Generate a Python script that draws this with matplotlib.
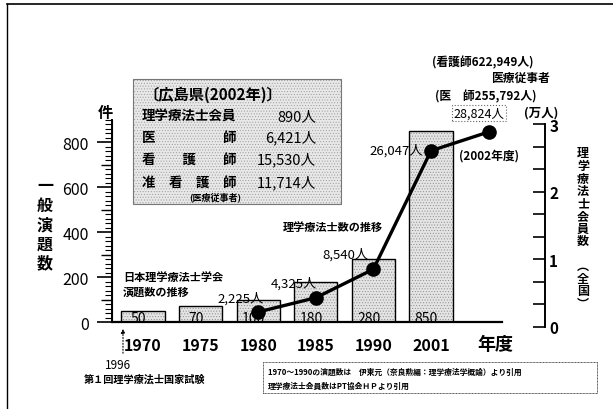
import matplotlib
matplotlib.use('Agg')
import matplotlib.pyplot as plt
from matplotlib.patches import Rectangle
from matplotlib.lines import Line2D
from matplotlib.ticker import MultipleLocator, FixedLocator

plt.rcParams['font.family'] = ['Noto Sans CJK JP', 'DejaVu Sans']
plt.rcParams['hatch.linewidth'] = 0.4

# ---- data ----
categories = ['1970', '1975', '1980', '1985', '1990', '2001']
presentations = [50, 70, 100, 180, 280, 850]
pt_years = ['1980', '1985', '1990', '2001', '2002']
pt_members = [2225, 4325, 8540, 26047, 28824]
hiroshima_labels = ['理学療法士会員', '医　　　　　師', '看　　護　　師', '准　看　護　師']
hiroshima_values = [890, 6421, 15530, 11714]
right_ticks = [0, 1, 2, 3]
left_ticks = [0, 200, 400, 600, 800]

# ---- layout helpers ----
W, H = 613, 410
fig = plt.figure(figsize=(6.13, 4.10), dpi=100)
def fx(x): return x / W
def fy(y): return 1 - y / H

axL, axR = 112, 545
step = 57.6
x0 = 143
xmin, xmax = (axL - x0) / step, (axR - x0) / step

ax = fig.add_axes([fx(axL), fy(323), (axR - axL) / W, (323 - 121) / H])
ax2 = fig.add_axes([fx(axL), fy(328), (axR - axL) / W, (328 - 125) / H])

positions = list(range(len(categories)))
all_years = categories + [y for y in pt_years if y not in categories]
line_pos = [all_years.index(y) for y in pt_years]

# bars (texture + outline)
ax.bar(positions, presentations, width=0.75, color='#e4e4e4', hatch='......',
       edgecolor='#8c8c8c', linewidth=0, zorder=2)
ax.bar(positions, presentations, width=0.75, fill=False, edgecolor='black',
       linewidth=1.0, zorder=3)
for p, v in zip(positions, presentations):
    ax.text(p - 0.08, 18, str(v), ha='center', va='center', fontsize=10, zorder=4)

ax.set_xlim(xmin, xmax)
ax.set_ylim(0, 900)
for s in ['top', 'right']:
    ax.spines[s].set_visible(False)
ax.spines['bottom'].set_bounds(xmin, (502 - x0) / step)
ax.spines['bottom'].set_linewidth(1.6)
ax.spines['left'].set_linewidth(1.4)
ax.patch.set_visible(False)

ax.yaxis.set_major_locator(FixedLocator(left_ticks))
ax.yaxis.set_minor_locator(MultipleLocator(20))
ax.tick_params(axis='y', which='major', length=10.8, width=1.2, direction='out',
               pad=6, labelsize=11.5)
ax.tick_params(axis='y', which='minor', length=5, width=0.8, direction='out')
sec = ax.secondary_yaxis('left')
sec.set_yticks([100, 300, 500, 700])
sec.tick_params(length=8, width=1.0, labelleft=False)

ax.set_xticks(positions, categories)
ax.tick_params(axis='x', length=0, pad=11, labelsize=11.5)
for lbl in ax.get_xticklabels():
    lbl.set_fontweight('bold')

# right axis + line
ax2.set_xlim(xmin, xmax)
ax2.set_ylim(0, 3)
ax2.patch.set_visible(False)
for s in ['top', 'left', 'bottom']:
    ax2.spines[s].set_visible(False)
ax2.spines['right'].set_linewidth(1.4)
ax2.set_xticks([])
ax2.yaxis.tick_right()
ax2.set_yticks(right_ticks)
ax2.yaxis.set_minor_locator(MultipleLocator(1 / 3))
ax2.tick_params(axis='y', which='both', direction='in', length=9, width=1.2,
                pad=3, labelsize=11)
for lbl in ax2.get_yticklabels():
    lbl.set_fontweight('bold')

vals = [v / 10000 for v in pt_members]
ax2.plot(line_pos, vals, color='black', lw=2.4, marker='o', ms=9.5, zorder=5)

offsets = [(6, 14, 'right'), (1, 15, 'right'), (-5, 15, 'right'), (-8, 1, 'right')]
for (dx, dy, ha), p, v, raw in zip(offsets, line_pos, vals, pt_members):
    ax2.annotate(f'{raw:,}人', (p, v), xytext=(dx, dy), textcoords='offset pixels',
                 ha=ha, va='center', fontsize=9.5)
ax2.annotate(f'{pt_members[-1]:,}人', (line_pos[-1], vals[-1]), xytext=(-10, 19),
             textcoords='offset pixels', ha='center', va='center', fontsize=9,
             bbox=dict(boxstyle='square,pad=0.12', fc='white', ec='#666666',
                       ls=':', lw=0.8))
ax2.annotate('(2002年度)', (line_pos[-1], vals[-1]), xytext=(0, -23),
             textcoords='offset pixels', ha='center', va='center', fontsize=8.5,
             weight='bold')

# text box (Hiroshima)
fig.add_artist(Rectangle((fx(133), fy(205)), (341 - 133) / W, (205 - 80) / H,
                         transform=fig.transFigure, fc='#e8e8e8', hatch='......',
                         ec='#9a9a9a', lw=0, zorder=0))
fig.add_artist(Rectangle((fx(133), fy(205)), (341 - 133) / W, (205 - 80) / H,
                         transform=fig.transFigure, fill=False, ec='#777777',
                         lw=0.8, zorder=1))
fig.text(fx(143), fy(95), '〔広島県(2002年)〕', fontsize=11, va='center', weight='bold')
for i, (lab, v) in enumerate(zip(hiroshima_labels, hiroshima_values)):
    yy = [117, 138, 160, 183][i]
    fig.text(fx(142), fy(yy), lab, fontsize=9.7, va='center', weight='bold')
    fig.text(fx(316), fy(yy), f'{v:,}人', fontsize=10.5, va='center', ha='right')
fig.text(fx(215), fy(197), '(医療従事者)', fontsize=6.5, va='center', ha='center',
         weight='bold')

# other annotations
fig.text(fx(432), fy(63), '(看護師622,949人)', fontsize=8.5, va='center', weight='bold')
fig.text(fx(550), fy(78), '医療従事者', fontsize=8.5, va='center', ha='right', weight='bold')
fig.text(fx(435), fy(97), '(医　師255,792人)', fontsize=8.5, va='center', weight='bold')
fig.text(fx(541), fy(113), '(万人)', fontsize=9, va='center', ha='center', weight='bold')
fig.text(fx(105), fy(113), '件', fontsize=11, va='center', ha='center', weight='bold')
fig.text(fx(495), fy(345), '年度', fontsize=13, va='center', ha='center', weight='bold')
fig.text(fx(333), fy(227), '理学療法士数の推移', fontsize=8, va='center', ha='center',
         weight='bold')
fig.text(fx(123), fy(278), '日本理学療法士学会', fontsize=8, va='center', weight='bold')
fig.text(fx(123), fy(292), '演題数の推移', fontsize=8, va='center', weight='bold')
fig.text(fx(45), fy(225), '\n'.join('一般演題数'), fontsize=11.5, va='center',
         ha='center', weight='bold', linespacing=1.25)
fig.text(fx(583), fy(229), '\n'.join('理学療法士会員数') + '\n\n' + '\n'.join('︵全国︶'),
         fontsize=8.7, va='center', ha='center', weight='bold', linespacing=0.95)

fig.text(fx(118), fy(366), '1996', fontsize=8.5, va='center', ha='center')
fig.text(fx(145), fy(380), '第１回理学療法士国家試験', fontsize=7.3, va='center',
         ha='center', weight='bold')
fig.add_artist(plt.Annotation('', xy=(fx(123), fy(327)), xytext=(fx(123), fy(357)),
                              xycoords='figure fraction', textcoords='figure fraction',
                              arrowprops=dict(arrowstyle='-|>', ls=':', lw=0.8,
                                              color='black', mutation_scale=6)))

# footnote box
fig.add_artist(Rectangle((fx(263), fy(394)), (597 - 263) / W, (394 - 363) / H,
                         transform=fig.transFigure, fill=False, ec='#555555',
                         lw=0.7, ls=(0, (1, 0.5))))
fig.text(fx(268), fy(372), '1970～1990の演題数は　伊東元（奈良勲編：理学療法学概論）より引用',
         fontsize=5.6, va='center', weight='bold')
fig.text(fx(268), fy(386), '理学療法士会員数はPT協会ＨＰより引用', fontsize=5.6,
         va='center', weight='bold')

# outer frame
fig.add_artist(Line2D([fx(7), fx(613)], [fy(5), fy(5)], transform=fig.transFigure,
                      color='black', lw=1.2))
fig.add_artist(Line2D([fx(7), fx(7)], [fy(5), fy(410)], transform=fig.transFigure,
                      color='black', lw=1.0))

fig.savefig('out.png', dpi=100)
